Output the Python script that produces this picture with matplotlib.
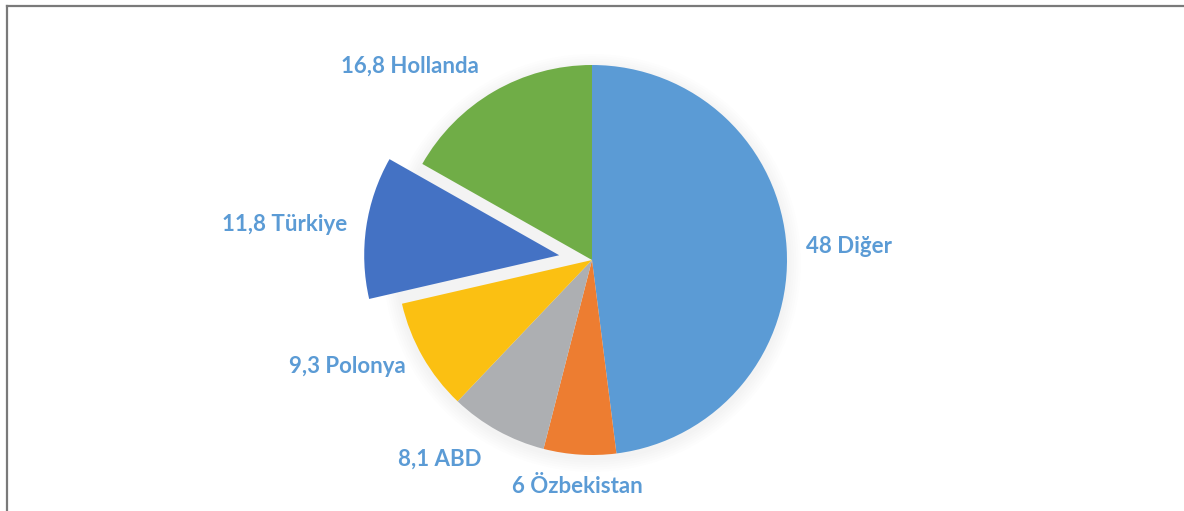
import numpy as np
import matplotlib.pyplot as plt
from matplotlib.lines import Line2D

plt.rcParams['font.family'] = ['Lato', 'DejaVu Sans']

# dilim verileri (saat yönünde, tepeden başlayarak)
labels = ['Diğer', 'Özbekistan', 'ABD', 'Polonya', 'Türkiye', 'Hollanda']
values = [48, 6, 8.1, 9.3, 11.8, 16.8]
value_texts = ['48', '6', '8,1', '9,3', '11,8', '16,8']
colors = ['#5B9BD5', '#ED7D31', '#ADAFB2', '#FBC012', '#4472C4', '#70AD47']
explode = [0, 0, 0, 0, 0.17, 0]

# etiket yerleşimi: (yarıçap, yatay hizalama)
label_r = [1.1, 1.165, 1.17, 1.1, 1.27, 1.15]
label_ha = ['left', 'center', 'right', 'right', 'right', 'right']

W, H = 1184, 511
R = 195.0
cx, cy = 592, 260  # piksel, üstten

fig = plt.figure(figsize=(W / 100, H / 100), dpi=100)
ax = fig.add_axes([0, 0, 1, 1])

# hafif gölge
for k in range(6):
    c = plt.Circle((0.0, -0.015), 1.0 + 0.012 * (6 - k), color='#000000',
                   alpha=0.008, lw=0, zorder=0)
    ax.add_patch(c)

wedges, _ = ax.pie(values, colors=colors, explode=explode, startangle=90,
                   counterclock=False, radius=1.0,
                   wedgeprops=dict(linewidth=0))
for w in wedges:
    w.set_zorder(2)

for w, lab, vt, r, ha, ex in zip(wedges, labels, value_texts, label_r, label_ha, explode):
    ang = np.deg2rad((w.theta1 + w.theta2) / 2)
    x, y = r * np.cos(ang), r * np.sin(ang)
    ax.text(x, y, f'{vt} {lab}', ha=ha, va='center', fontsize=16,
            fontweight='bold', color='#5B9BD5', zorder=3)

ax.set_aspect('auto')
ax.set_xlim(-cx / R, (W - cx) / R)
ax.set_ylim(-(H - cy) / R, cy / R)
ax.axis('off')

# çerçeve
fig.add_artist(Line2D([6.5 / W, 6.5 / W], [0, 1 - 6.5 / H], color='#7a7a7a', lw=1.6))
fig.add_artist(Line2D([6.5 / W, 1], [1 - 6.5 / H, 1 - 6.5 / H], color='#7a7a7a', lw=1.6))

fig.savefig('out.png', dpi=100)
